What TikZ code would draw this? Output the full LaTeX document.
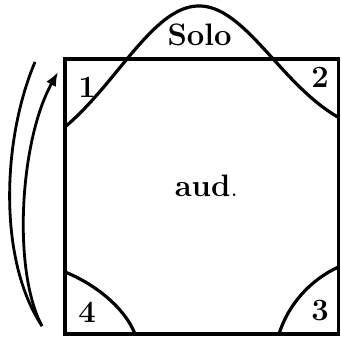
\documentclass[tikz,border=0pt]{standalone}
\usepackage{fontspec}
\usetikzlibrary{arrows.meta}
\begin{document}
\begin{tikzpicture}[x=1pt,y=-1pt,
  ln/.style={line width=3.2pt},
  lbl/.style={font=\fontsize{31}{36}\selectfont\bfseries, inner sep=0pt, anchor=base}]
\useasboundingbox (0,0) rectangle (341,337);
% room
\draw[ln] (65,59) rectangle (338.5,334);
% bell curve (Solo)
\draw[ln] plot[domain=65:199, samples=60, smooth] (\x, {168-162*exp(-((\x-199)*0.008744)^2)})
  -- plot[domain=199:338.5, samples=60, smooth] (\x, {140-134*exp(-((\x-199)*0.009566)^2)});
% corner arcs
\draw[ln] (65,272) .. controls (95,284) and (125,308) .. (135,334);
\draw[ln] (338.5,267) .. controls (310,280) and (288,305) .. (279,334);
% labels
\node[lbl] (solo) at (199.5,46) {Solo};
\node[lbl] (aud) at (206.5,197) {aud\textmd{.}};
\node[lbl] (n1) at (87,98) {1};
\node[lbl] (n2) at (320,88) {2};
\node[lbl] (n3) at (320,321) {3};
\node[lbl] (n4) at (87,323) {4};
% arrows
\coordinate (bot) at (42,326);
\coordinate (otop) at (35,62);
\coordinate (itop) at (58,72);
\draw[ln, line width=2.8pt] (otop) .. controls (2,140) and (-2,260) .. (bot);
\draw[ln, line width=2.8pt, -{Latex[length=14pt,width=11pt]}] (bot) .. controls (12,270) and (20,140) .. (itop);
\end{tikzpicture}
\end{document}
